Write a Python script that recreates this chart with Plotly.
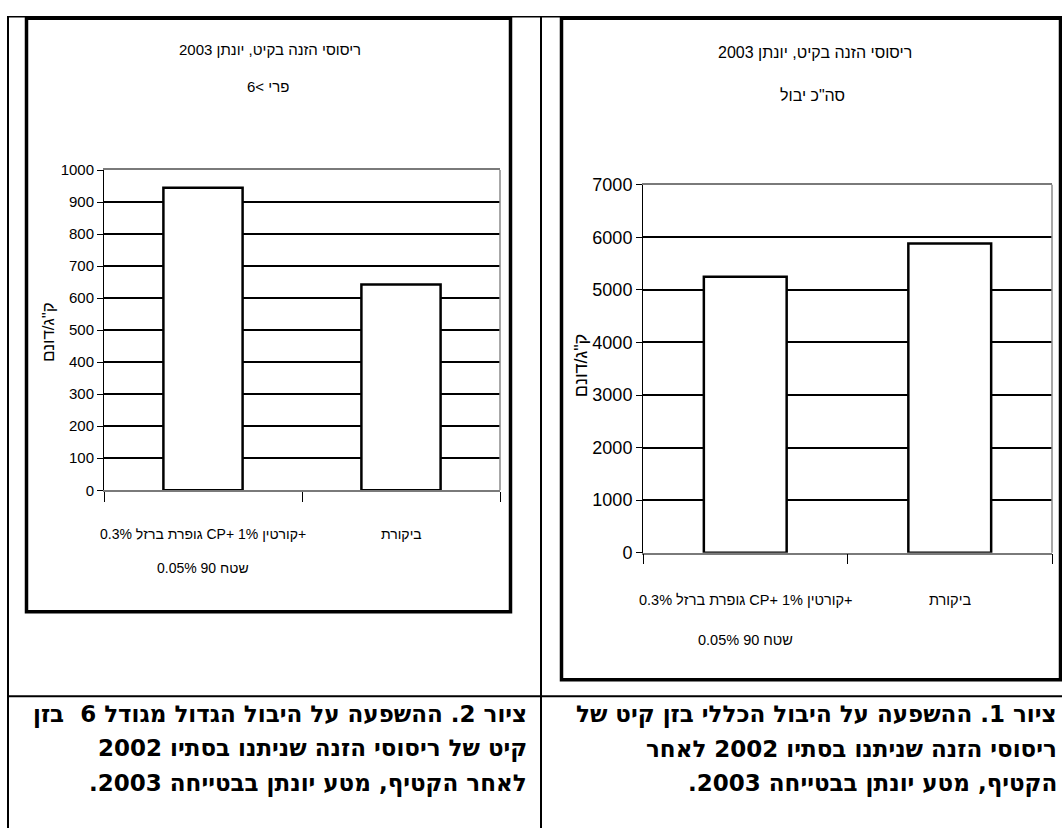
import plotly.graph_objects as go

# Yield data, Yonatan orchard 2003 (kg per dunam)
categories = ["0.3% גופרת ברזל CP+ 1% קורטין+", "ביקורת"]
categories_line2 = ["0.05% 90 שטח", ""]
total_yield = [5250, 5880]        # total yield
large_fruit_yield = [945, 643]    # fruit size > 6

chart_title = "ריסוסי הזנה בקיט, יונתן 2003"
sub_total = "סה\"כ יבול"
sub_large = "פרי >6"
y_title = "ק\"ג/דונם"

left_ticks = list(range(0, 1001, 100))
right_ticks = list(range(0, 7001, 1000))

RLM = "\u200f"
caption_right = [
    "ציור 1. ההשפעה על היבול הכללי בזן קיט של",
    "ריסוסי הזנה שניתנו בסתיו 2002 לאחר",
    "הקטיף, מטע יונתן בבטייחה 2003.",
]
caption_left = [
    "ציור 2. ההשפעה על היבול הגדול מגודל 6  בזן",
    "קיט של ריסוסי הזנה שניתנו בסתיו 2002",
    "לאחר הקטיף, מטע יונתן בבטייחה 2003.",
]

W, H = 1062, 838
NARROW = "Liberation Sans, Arial, sans-serif"
BOLD = "DejaVu Sans, Tahoma, sans-serif"


def fx(px):
    return px / W


def fy(py):
    return 1 - py / H


fig = go.Figure()

fig.add_trace(go.Bar(
    x=categories, y=large_fruit_yield, width=0.4,
    marker=dict(color="white", line=dict(color="black", width=2.5)),
    xaxis="x", yaxis="y", showlegend=False,
))
fig.add_trace(go.Bar(
    x=categories, y=total_yield, width=0.405,
    marker=dict(color="white", line=dict(color="black", width=2.5)),
    xaxis="x2", yaxis="y2", showlegend=False,
))


def xaxis_style(domain, anchor):
    return dict(
        domain=domain, anchor=anchor, type="category", range=[-0.5, 1.5],
        showticklabels=False, ticks="outside", tickson="boundaries",
        ticklen=10, tickcolor="black", tickwidth=1,
        showline=True, linecolor="#7a7a7a", linewidth=1.5, mirror=True,
        showgrid=False, zeroline=False, fixedrange=True,
    )


def yaxis_style(domain, anchor, ticks, size):
    return dict(
        domain=domain, anchor=anchor, range=[0, ticks[-1]],
        tickmode="array", tickvals=ticks, ticktext=[str(t) for t in ticks],
        ticks="outside", ticklen=6, tickcolor="black", tickwidth=1,
        showline=True, linecolor="black", linewidth=1,
        showgrid=False, zeroline=False, fixedrange=True,
        tickfont=dict(family=NARROW, size=size, color="black"),
        minor=dict(tickmode="array", tickvals=ticks[1:-1], showgrid=True,
                   gridcolor="black", gridwidth=2, ticks=""),
    )


fig.update_layout(
    width=W, height=H,
    margin=dict(l=0, r=0, t=0, b=0),
    paper_bgcolor="white", plot_bgcolor="white",
    xaxis=xaxis_style([fx(104), fx(500)], "y"),
    yaxis=yaxis_style([fy(492), fy(164)], "x", left_ticks, 15),
    xaxis2=xaxis_style([fx(643), fx(1052)], "y2"),
    yaxis2=yaxis_style([fy(556), fy(179)], "x2", right_ticks, 18),
)

shapes = []
# table lines
for s in [
    dict(x0=7, y0=7, x1=W, y1=7, w=1.5),
    dict(x0=8, y0=7, x1=8, y1=H, w=2),
    dict(x0=541, y0=7, x1=541, y1=H, w=2),
    dict(x0=7, y0=703, x1=W, y1=703, w=2),
]:
    shapes.append(dict(type="line", xref="paper", yref="paper",
                       x0=fx(s["x0"]), y0=fy(s["y0"]), x1=fx(s["x1"]), y1=fy(s["y1"]),
                       line=dict(color="black", width=s["w"])))
# chart frames
for x0, y0, x1, y1 in [(26.5, 8.5, 510.5, 616.5), (561.5, 8.5, 1060.5, 686)]:
    shapes.append(dict(type="rect", xref="paper", yref="paper",
                       x0=fx(x0), y0=fy(y0), x1=fx(x1), y1=fy(y1),
                       line=dict(color="black", width=3.5)))
# grey right border of each plot area
for xr, yr in [("x", "y"), ("x2", "y2")]:
    shapes.append(dict(type="line", xref=f"{xr} domain", yref=f"{yr} domain",
                       x0=1, x1=1, y0=0, y1=1, line=dict(color="#8a8a8a", width=1.5)))

ann = []


def text(x, y, t, size, family=NARROW, xanchor="center", angle=0, xref="paper"):
    ann.append(dict(x=x, y=y, xref=xref, yref="paper", text=t, showarrow=False,
                    xanchor=xanchor, yanchor="middle", textangle=angle,
                    font=dict(family=family, size=size, color="black")))


# titles
text(fx(269.5), fy(40), chart_title, 15)
text(fx(268), fy(78), sub_large, 15)
text(fx(814.5), fy(44), chart_title, 16)
text(fx(812), fy(88), sub_total, 16)
# y axis titles
text(fx(48), fy(330), y_title, 17, angle=-90)
text(fx(581), fy(365), y_title, 18, angle=-90)
# category labels
for c, l2 in zip(categories, categories_line2):
    text(c, fy(537), c, 14, xref="x")
    if l2:
        text(c, fy(572), l2, 14, xref="x")
    text(c, fy(604), c, 14.5, xref="x2")
    if l2:
        text(c, fy(645), l2, 14.5, xref="x2")
# captions
for i, line in enumerate(caption_left):
    text(fx(529), fy(722 + 35 * i), "<b>" + RLM + line + RLM + "</b>", 23,
         family=BOLD, xanchor="right")
for i, line in enumerate(caption_right):
    text(fx(1059), fy(722 + 35 * i), "<b>" + RLM + line + RLM + "</b>", 23,
         family=BOLD, xanchor="right")

fig.update_layout(shapes=shapes, annotations=ann)
fig.write_html("out.html")
